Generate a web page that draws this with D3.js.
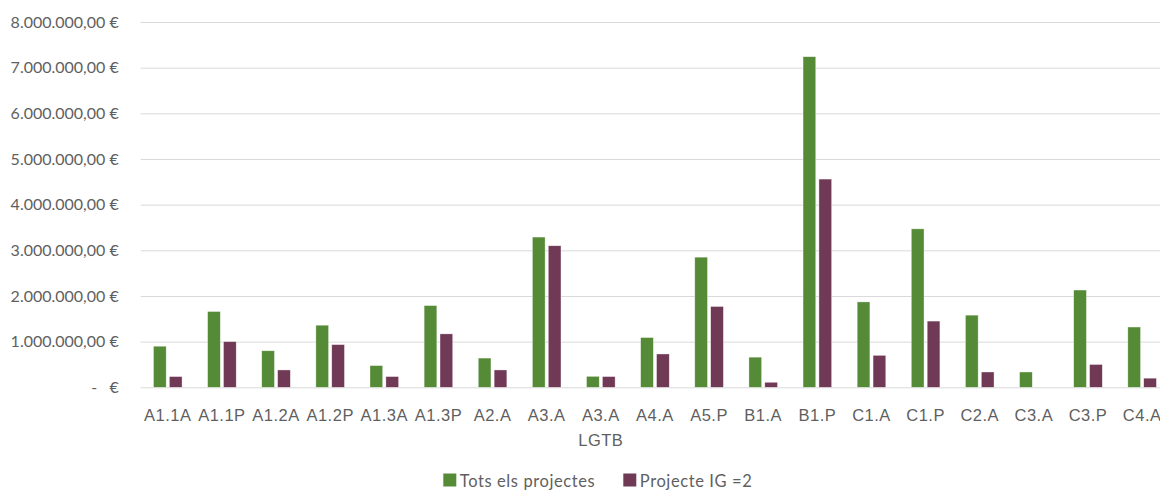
<!DOCTYPE html>
<html>
<head>
<meta charset="utf-8">
<script src="https://cdn.jsdelivr.net/npm/d3@7"></script>
<style>
  html, body { margin: 0; padding: 0; background: #ffffff; overflow: hidden; }
  svg { display: block; font-family: Lato, "Open Sans", sans-serif; }
  .tick-label { white-space: pre; }
</style>
</head>
<body>
<svg id="chart" width="1160" height="491"></svg>
<script>
// Program codes (categories)
const categories = ["A1.1A","A1.1P","A1.2A","A1.2P","A1.3A","A1.3P","A2.A","A3.A","A3.A\nLGTB",
                    "A4.A","A5.P","B1.A","B1.P","C1.A","C1.P","C2.A","C3.A","C3.P","C4.A"];

// Budget totals (€)
const totsElsProjectes = [900000, 1660000, 800000, 1360000, 475000, 1790000, 640000, 3290000, 240000,
                          1090000, 2850000, 660000, 7240000, 1870000, 3470000, 1580000, 335000, 2130000, 1320000];
const projecteIG2      = [235000, 1000000, 380000, 935000, 235000, 1170000, 380000, 3100000, 235000,
                          730000, 1770000, 110000, 4560000, 700000, 1450000, 335000, 0, 500000, 200000];

const seriesNames = ["Tots els projectes", "Projecte IG =2"];
const seriesColors = ["#558b36", "#703a57"];

// Y axis ticks and their labels
const yTicks = [0, 1000000, 2000000, 3000000, 4000000, 5000000, 6000000, 7000000, 8000000];
const yTickLabels = ["-   €", "1.000.000,00 €", "2.000.000,00 €", "3.000.000,00 €", "4.000.000,00 €",
                     "5.000.000,00 €", "6.000.000,00 €", "7.000.000,00 €", "8.000.000,00 €"];

const svg = d3.select("#chart");
const textColor = "#5f5f5f";
const gridColor = "#d9d9d9";

const plotLeft = 140.7, plotRight = 1169.2;
const plotTop = 22, plotBottom = 387.3;

const x = d3.scaleBand().domain(categories).range([plotLeft, plotRight]).padding(0);
const y = d3.scaleLinear().domain([0, 8000000]).range([plotBottom, plotTop]);

const groupHalf = 14.3;
const xInner = d3.scaleBand()
  .domain(seriesNames)
  .range([x.bandwidth() / 2 - groupHalf, x.bandwidth() / 2 + groupHalf])
  .paddingInner(0.2);

// Gridlines + y labels
const yAxis = d3.axisLeft(y)
  .tickValues(yTicks)
  .tickSize(-(plotRight - plotLeft))
  .tickPadding(22)
  .tickFormat((d, i) => yTickLabels[i]);

const gy = svg.append("g")
  .attr("transform", `translate(${plotLeft},0)`)
  .call(yAxis);
gy.select(".domain").remove();
gy.selectAll(".tick line").attr("stroke", gridColor).attr("stroke-width", 1);
gy.selectAll(".tick text")
  .attr("class", "tick-label")
  .attr("fill", textColor)
  .attr("font-size", 16)
  .attr("font-family", "Lato, 'Open Sans', sans-serif");

// Bars
const rows = categories.map((c, i) => ({ cat: c, values: [totsElsProjectes[i], projecteIG2[i]] }));

const groups = svg.append("g").selectAll("g")
  .data(rows)
  .join("g")
  .attr("transform", d => `translate(${x(d.cat)},0)`);

groups.selectAll("rect")
  .data(d => d.values.map((v, k) => ({ name: seriesNames[k], value: v, k })))
  .join("rect")
  .filter(d => d.value > 0)
  .attr("x", d => xInner(d.name))
  .attr("width", xInner.bandwidth())
  .attr("y", d => y(d.value))
  .attr("height", d => y(0) - y(d.value))
  .attr("fill", d => seriesColors[d.k])
  .attr("stroke", "#ffffff")
  .attr("stroke-opacity", 0.6)
  .attr("stroke-width", 0.6);

// X axis labels (may wrap onto a second line)
const xAxis = d3.axisBottom(x).tickSize(0).tickPadding(0).tickFormat("");
const gx = svg.append("g").attr("transform", `translate(0,${plotBottom})`).call(xAxis);
gx.select(".domain").remove();
gx.selectAll(".tick").each(function (d) {
  const lines = d.split("\n");
  const t = d3.select(this).append("text")
    .attr("fill", textColor)
    .attr("font-size", 16.5)
    .attr("letter-spacing", 0.5)
    .attr("text-anchor", "middle");
  lines.forEach((ln, j) => {
    t.append("tspan").attr("x", 0).attr("y", 34 + j * 25).text(ln);
  });
});

// Legend
const legendItems = [
  { name: seriesNames[0], color: seriesColors[0], x: 443.3 },
  { name: seriesNames[1], color: seriesColors[1], x: 623.3 }
];
const lg = svg.append("g");
legendItems.forEach(it => {
  lg.append("rect").attr("x", it.x).attr("y", 473.5).attr("width", 13).attr("height", 13).attr("fill", it.color);
  lg.append("text").attr("x", it.x + 16.5).attr("y", 486.5)
    .attr("fill", textColor).attr("font-size", 16.5).attr("letter-spacing", 0.6).text(it.name);
});
</script>
</body>
</html>
